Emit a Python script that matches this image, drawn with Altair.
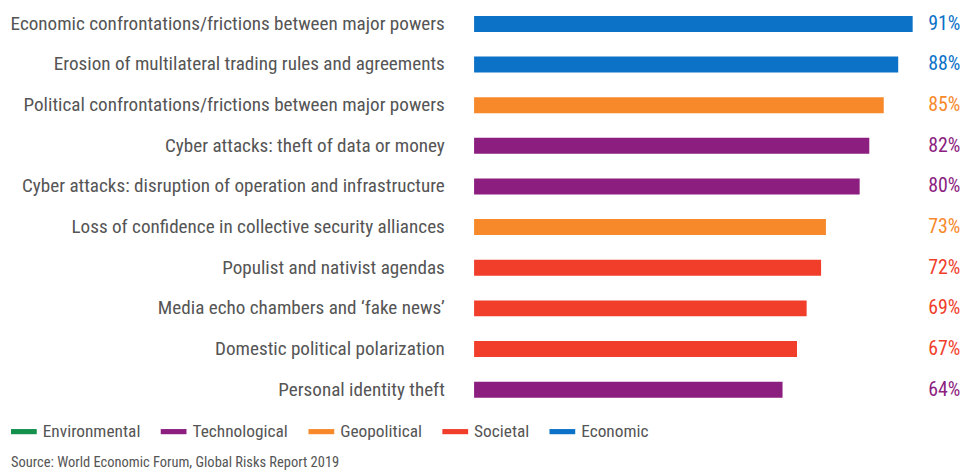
import altair as alt
import pandas as pd

risks = [
    "Economic confrontations/frictions between major powers",
    "Erosion of multilateral trading rules and agreements",
    "Political confrontations/frictions between major powers",
    "Cyber attacks: theft of data or money",
    "Cyber attacks: disruption of operation and infrastructure",
    "Loss of confidence in collective security alliances",
    "Populist and nativist agendas",
    "Media echo chambers and \u2018fake news\u2019",
    "Domestic political polarization",
    "Personal identity theft",
]
values = [91, 88, 85, 82, 80, 73, 72, 69, 67, 64]
categories = [
    "Economic", "Economic", "Geopolitical", "Technological", "Technological",
    "Geopolitical", "Societal", "Societal", "Societal", "Technological",
]
legend_order = ["Environmental", "Technological", "Geopolitical", "Societal", "Economic"]
legend_colors = ["#12904c", "#8b1e7f", "#f7892b", "#f03e2b", "#0b72c8"]

df = pd.DataFrame({
    "risk": risks,
    "value": values,
    "cat": categories,
    "label": [f"{v}%" for v in values],
})

FONT = "Roboto Condensed, Lato, sans-serif"

color_scale = alt.Scale(domain=legend_order, range=legend_colors)
legend = alt.Legend(
    title=None,
    orient="none",
    legendX=-467,
    legendY=412,
    direction="horizontal",
    symbolType="M-1,-0.2H1V0.2H-1Z",
    symbolSize=676,
    symbolStrokeWidth=0,
    labelFont=FONT,
    labelFontSize=17.5,
    labelColor="#555555",
    labelOffset=6,
    columnPadding=20,
)

base = alt.Chart(df).encode(
    y=alt.Y(
        "risk:N",
        sort=risks,
        scale=alt.Scale(paddingInner=0.607, paddingOuter=0.1475),
        axis=alt.Axis(
            title=None, domain=False, ticks=False, labelFont=FONT,
            labelFontSize=19.3, labelColor="#555555", labelPadding=30,
            labelLimit=600,
        ),
    ),
)

bars = base.mark_bar().encode(
    x=alt.X("value:Q", scale=alt.Scale(domain=[0, 100], nice=False), axis=None),
    color=alt.Color("cat:N", scale=color_scale, legend=legend),
)

text = base.mark_text(align="left", baseline="middle", font=FONT, fontSize=20).encode(
    x=alt.value(458),
    text="label:N",
    color=alt.Color("cat:N", scale=color_scale, legend=legend),
)

chart = alt.layer(bars, text).properties(
    width=486,
    height=397,
    autosize=alt.AutoSizeParams(type="none"),
    padding={"left": 470, "right": 5, "top": 0, "bottom": 66},
    title=alt.TitleParams(
        "Source: World Economic Forum, Global Risks Report 2019",
        orient="bottom", anchor="start", frame="group",
        dx=-467,
        font=FONT, fontSize=14.6, fontWeight="normal", color="#555555",
        offset=15,
    ),
).configure_view(stroke=None)

chart.save("out.html", embed_options={"renderer": "svg", "actions": False})
